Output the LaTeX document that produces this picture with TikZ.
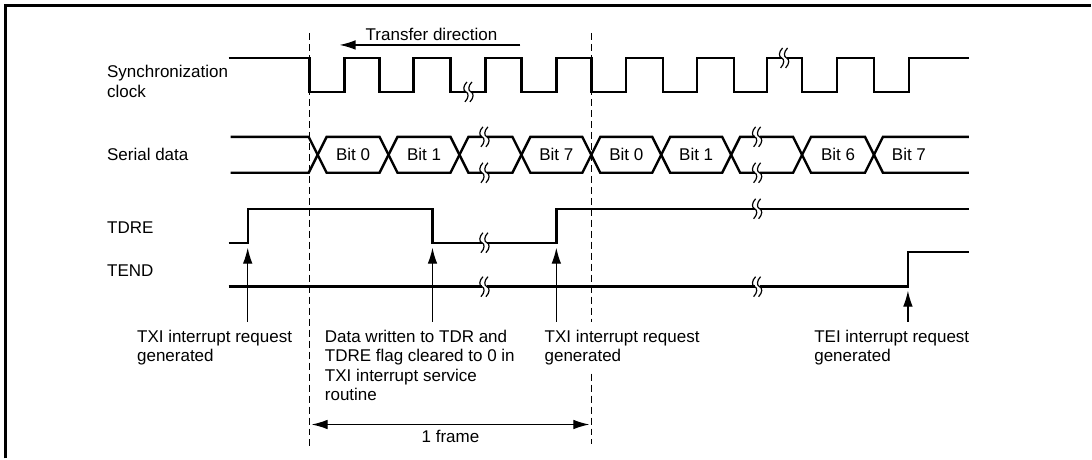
\documentclass[tikz,border=0pt]{standalone}
\usepackage{fontspec}
\setmainfont{Liberation Sans}
\usetikzlibrary{arrows.meta}

\begin{document}
\begin{tikzpicture}[x=0.25mm, y=-0.25mm,
  font=\fontsize{12.1}{13.9}\selectfont,
  >={Latex[length=4mm,width=2.4mm]},
  wave/.style={line width=0.6mm},
  guide/.style={line width=0.3mm, dash pattern=on 1.75mm off 1mm},
  ptr/.style={line width=0.3mm, ->},
  siglbl/.style={anchor=west, inner sep=0pt},
  note/.style={anchor=north west, align=left, inner sep=2mm, fill=white},
  brk/.pic={
    \fill[white] (-2.5,-4) rectangle (2.5,4);
    \foreach \dx in {-2.5,2.5}
      \draw[line width=0.3mm] (\dx+1,-10) .. controls (\dx-3,-6) and (\dx-3,-1) .. (\dx,0)
        .. controls (\dx+3,1) and (\dx+3,6) .. (\dx-1,10);
  }]
% Page and frame
\fill[white] (0,0) rectangle (1092,459);
\draw[line width=0.65mm] (5.5,459) -- (5.5,5.5) -- (1092,5.5);
% Signal names
\node[siglbl, anchor=north west, align=left] (clkl) at (107,65) {Synchronization\\clock};
\node[siglbl] (datl)  at (107,155) {Serial data};
\node[siglbl] (tdrel) at (107,228) {TDRE};
\node[siglbl] (tendl) at (107,271) {TEND};
% Transfer direction
\node (xfer) at (432,34) {Transfer direction};
\coordinate (xferR) at (521,45);
\coordinate (xferL) at (340,45);
\draw[ptr] (xferR) -- (xferL);
% Frame boundaries
\coordinate (d1top) at (310,33);
\coordinate (d1bot) at (310,450);
\coordinate (d2top) at (592,33);
\coordinate (d2bot) at (592,445);
\draw[guide] (d1top) -- (d1bot);
\draw[guide] (d2top) -- (d2bot);
% Synchronization clock
\draw[wave] (229,58)
  \foreach \f/\r in {310/345,380/414,451/486,522/557,592/627,664/698,735/768,803/838,875/910}
    { -- (\f,58) -- (\f,92) -- (\r,92) -- (\r,58) } -- (970,58);
\pic at (469,92) {brk};
\pic at (785,58) {brk};
% Serial data
\draw[wave] (231,137) -- (309,137) -- (318,155) -- (309,173) -- (231,173);
\foreach \a/\b/\t [count=\i] in {318/389/Bit 0, 389/460/Bit 1, 460/522/{}, 522/592/Bit 7,
    592/662/Bit 0, 662/732/Bit 1, 732/803/{}, 803/875/Bit 6} {
  \draw[wave] (\a,155) -- (\a+9,137) -- (\b-9,137) -- (\b,155) -- (\b-9,173) -- (\a+9,173) -- cycle;
  \node (bit\i) at ({(\a+\b)/2},155) {\t};
}
\draw[wave] (970,137) -- (884,137) -- (875,155) -- (884,173) -- (970,173);
\node (bit9) at (910,155) {Bit 7};
\foreach \x in {485,758}
  \foreach \y in {137,173}
    \pic at (\x,\y) {brk};
% TDRE and TEND
\draw[wave] (229,243) -- (248,243) -- (248,209) -- (433,209) -- (433,243)
  -- (557,243) -- (557,209) -- (970,209);
\pic at (485,243) {brk};
\pic at (758,209) {brk};
\draw[wave] (229,287) -- (909,287) -- (909,252) -- (970,252);
\pic at (485,287) {brk};
\pic at (758,287) {brk};
% Notes and their arrows
\node[note] (txi1) at (129,322) {TXI interrupt request\\generated};
\node[note] (wr)   at (317,322) {Data written to TDR and\\TDRE flag cleared to 0 in\\TXI interrupt service\\routine};
\node[note] (txi2) at (537,322) {TXI interrupt request\\generated};
\node[note] (tei)  at (807,322) {TEI interrupt request\\generated};
\coordinate (txi1tip) at (248,248);
\coordinate (wrtip)   at (433,248);
\coordinate (txi2tip) at (557,248);
\coordinate (teitip)  at (909,291);
\draw[ptr] (txi1.north -| txi1tip) -- (txi1tip);
\draw[ptr] (wr.north -| wrtip) -- (wrtip);
\draw[ptr] (txi2.north -| txi2tip) -- (txi2tip);
\draw[ptr] (tei.north -| teitip) -- (teitip);
% One frame
\coordinate (frL) at (312,425);
\coordinate (frR) at (590,425);
\draw[line width=0.3mm, <->] (frL) -- node[below] (frm) {1 frame} (frR);
\end{tikzpicture}
\end{document}
